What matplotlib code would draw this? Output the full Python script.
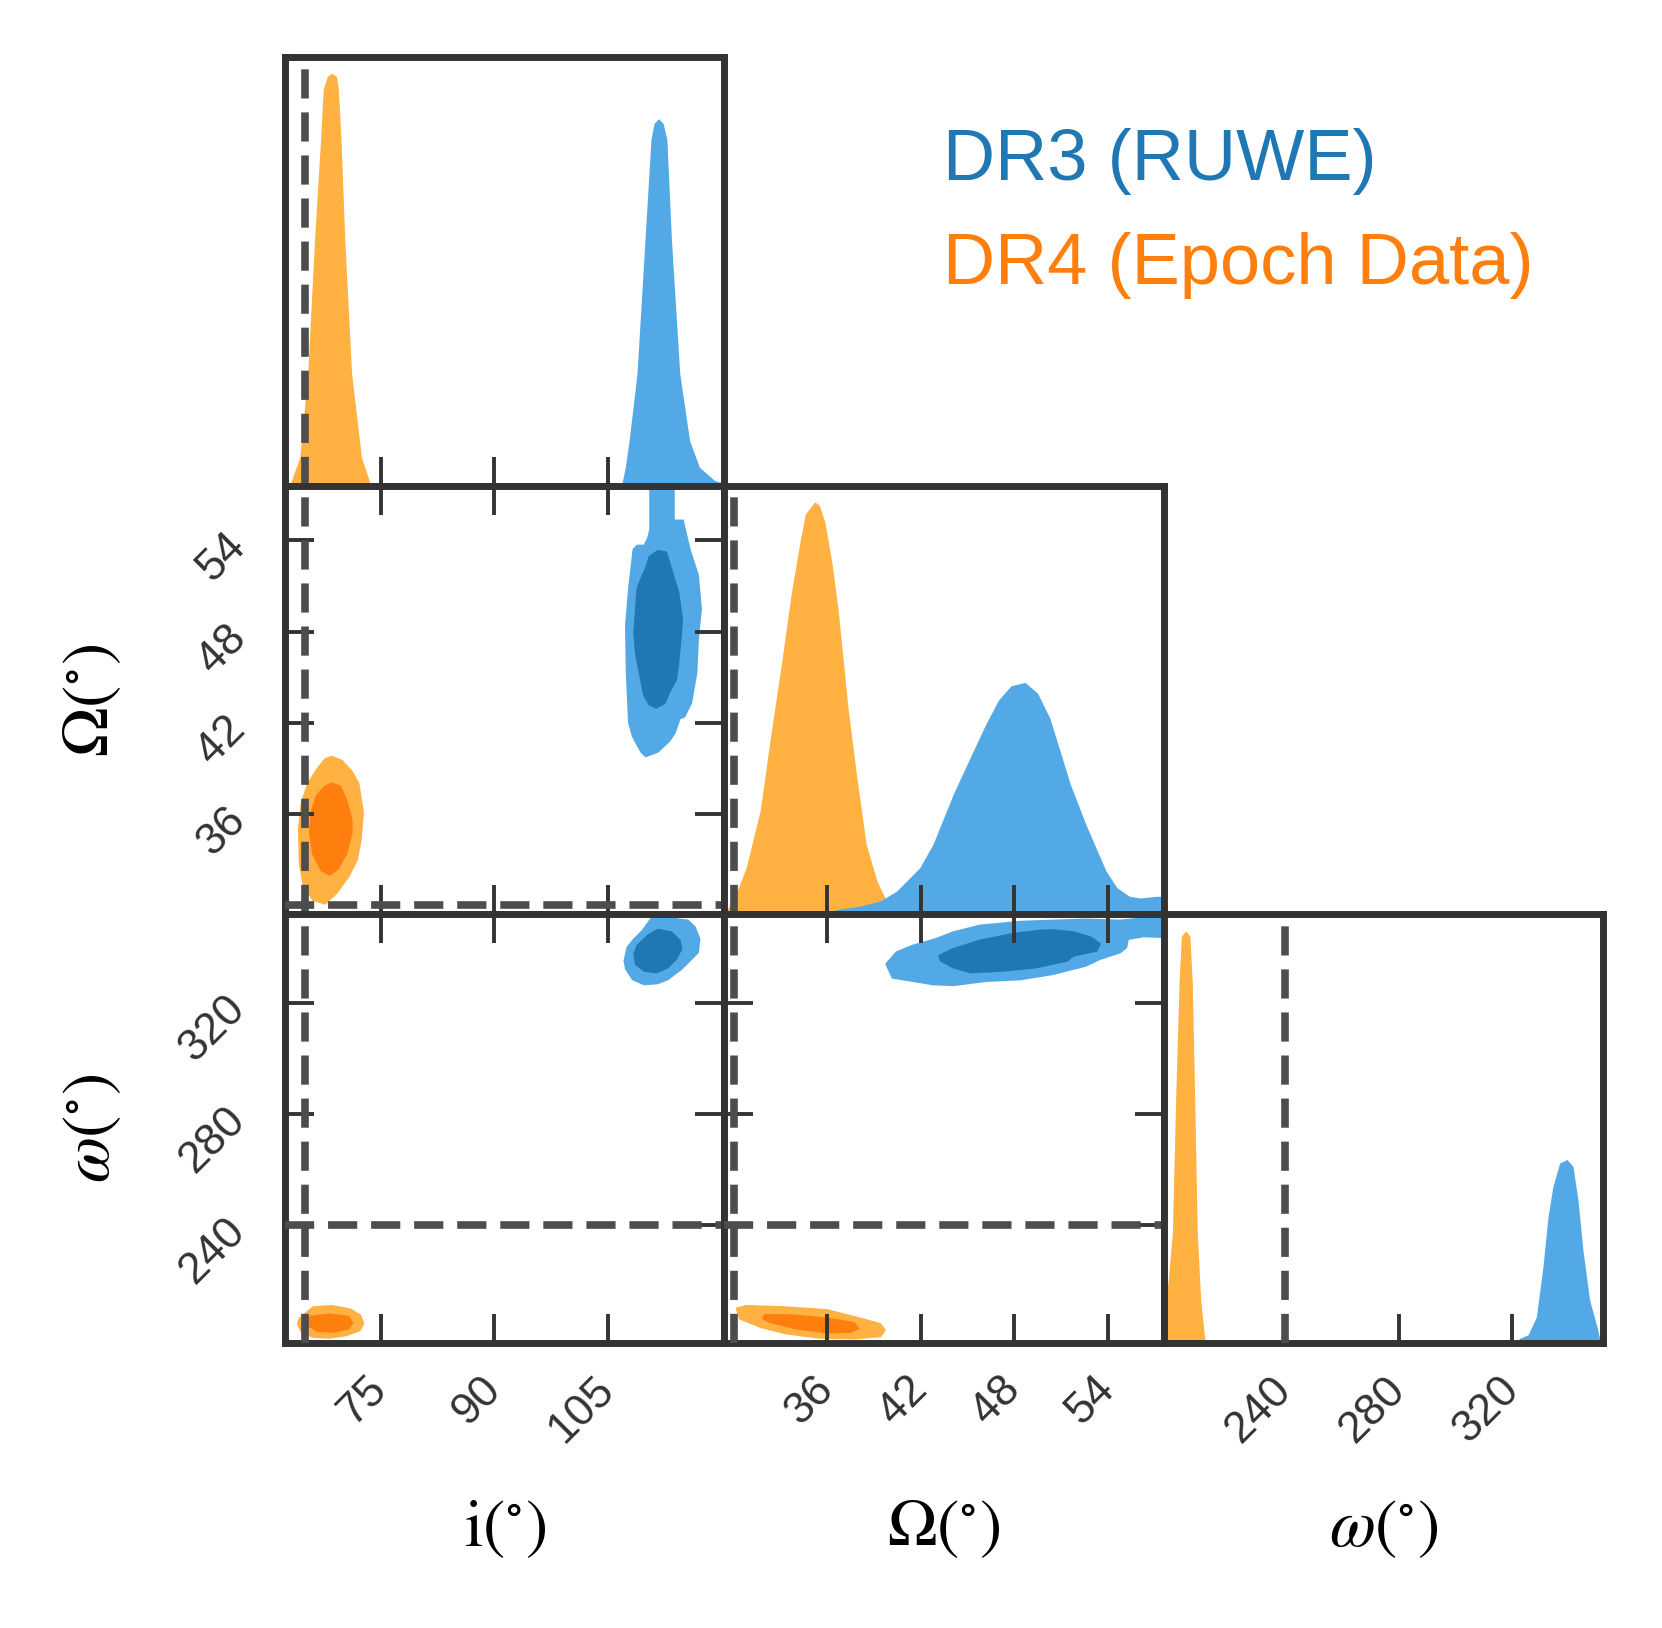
import matplotlib
matplotlib.use("Agg")
import matplotlib.pyplot as plt

plt.rcParams['mathtext.fontset'] = 'stix'
plt.rcParams['lines.scale_dashes'] = False
plt.rcParams['font.family'] = ['Liberation Sans', 'DejaVu Sans']

BLUE_LIGHT = "#53a9e5"
BLUE_DARK = "#1f77b4"
ORANGE_LIGHT = "#ffb142"
ORANGE_DARK = "#ff7f0e"
FRAME = "#333333"
TRUTH = "#4d4d4d"

# truth values (dashed lines)
i_true = 65
Omega_true = 30
omega_true = 240

# axis ranges / ticks
i_lim = (62.3, 120.4)
Omega_lim = (29.4, 57.6)
omega_lim = (197.5, 351.8)
i_ticks = [75, 90, 105]
Omega_ticks = [36, 42, 48, 54]
omega_ticks = [240, 280, 320]

# 1D marginals: value, relative height
i_dr4_x = [62.9, 63.3, 64.25, 65.3, 66.2, 67.0, 67.35, 67.9, 68.5, 69.1, 69.35, 69.7, 70.2, 71.1, 72.4, 73.3, 73.6]
i_dr4_h = [0, 0.02, 0.066, 0.262, 0.574, 0.808, 0.925, 0.955, 0.962, 0.955, 0.925, 0.808, 0.574, 0.262, 0.066, 0.019, 0]
i_dr3_x = [106.8, 107.3, 107.8, 108.85, 109.9, 110.7, 111.1, 111.7, 112.3, 112.8, 113.4, 114.5, 115.8, 117.1, 119.1, 120.4]
i_dr3_h = [0, 0.043, 0.105, 0.262, 0.574, 0.808, 0.845, 0.856, 0.845, 0.808, 0.574, 0.262, 0.105, 0.043, 0.012, 0.005]

Omega_dr4_x = [29.4, 29.65, 30.3, 30.8, 31.7, 32.3, 33.1, 33.7, 34.25, 34.6, 35.2, 35.5, 35.85, 36.3, 36.7, 37.35, 37.9, 38.5, 39.2, 39.8, 40.45, 41.0]
Omega_dr4_h = [0, 0.015, 0.062, 0.109, 0.242, 0.398, 0.594, 0.750, 0.868, 0.934, 0.962, 0.954, 0.915, 0.821, 0.711, 0.477, 0.320, 0.164, 0.077, 0.031, 0.011, 0]
Omega_dr3_x = [36.0, 36.6, 38.1, 39.4, 40.45, 41.95, 42.8, 44.1, 45.4, 46.2, 47.0, 47.8, 48.7, 49.5, 50.3, 51.6, 52.6, 53.9, 54.6, 55.4, 56.1, 57.1, 57.6]
Omega_dr3_h = [0, 0.011, 0.019, 0.031, 0.054, 0.109, 0.164, 0.281, 0.383, 0.445, 0.500, 0.533, 0.541, 0.516, 0.457, 0.304, 0.210, 0.101, 0.062, 0.042, 0.038, 0.042, 0.042]

omega_dr4_x = [197.5, 199.0, 200.55, 201.7, 202.9, 203.7, 205.2, 206.7, 207.55, 208.4, 209.3, 210.5, 211.9, 212.5]
omega_dr4_h = [0.09, 0.139, 0.256, 0.568, 0.840, 0.949, 0.961, 0.949, 0.840, 0.568, 0.256, 0.100, 0.011, 0]
omega_dr3_x = [321.0, 322.6, 325.5, 328.4, 330.7, 332.5, 334.2, 336.6, 339.15, 341.25, 343.0, 344.75, 347.1, 350.0, 350.6, 351.8]
omega_dr3_h = [0, 0.011, 0.019, 0.061, 0.178, 0.295, 0.365, 0.420, 0.428, 0.412, 0.334, 0.217, 0.100, 0.030, 0.011, 0]

# 2D credible regions, traced outlines (outer / inner)
# i vs Omega
iO_dr3_outer_x = [110.6, 113.7, 113.7, 114.9, 115.8, 116.9, 117.3, 116.9, 116.7, 116.0, 115.1, 114.5, 113.8, 113.1, 111.6, 110.0, 109.4, 108.3, 107.8, 107.5, 107.4, 107.8, 108.4, 108.9, 109.8, 110.3, 110.6]
iO_dr3_outer_y = [58.5, 58.5, 55.3, 55.3, 53.4, 51.7, 49.5, 47.5, 45.3, 43.3, 42.4, 42.3, 41.3, 40.8, 40.1, 39.8, 40.1, 41.1, 42.0, 45.3, 48.4, 50.8, 53.4, 53.65, 53.65, 54.1, 54.7]
iO_dr3_inner_x = [111.6, 112.7, 113.1, 113.6, 114.3, 114.8, 114.6, 114.25, 114.0, 113.1, 112.5, 111.4, 110.5, 109.8, 109.2, 108.7, 108.5, 108.9, 109.6, 110.0, 110.5]
iO_dr3_inner_y = [53.3, 53.2, 52.55, 51.7, 50.6, 48.8, 47.5, 45.7, 44.85, 44.0, 43.3, 43.0, 43.2, 43.8, 45.3, 46.6, 47.9, 50.8, 51.7, 52.1, 52.9]
iO_dr4_outer_x = [68.45, 69.8, 71.1, 72.0, 72.6, 72.3, 71.8, 70.7, 69.1, 67.6, 66.0, 64.7, 64.25, 64.15, 64.5, 65.35, 66.5, 67.6]
iO_dr4_outer_y = [39.76, 39.5, 38.8, 38.0, 36.1, 34.3, 33.0, 31.9, 30.8, 30.1, 30.35, 31.45, 32.8, 35.0, 36.7, 38.0, 38.9, 39.6]
iO_dr4_inner_x = [68.45, 69.6, 70.4, 71.1, 71.1, 70.4, 69.3, 68.2, 67.1, 66.0, 65.6, 65.8, 66.5, 67.6]
iO_dr4_inner_y = [38.0, 37.8, 36.9, 35.6, 34.75, 33.4, 32.4, 32.0, 32.3, 33.4, 34.75, 36.1, 37.2, 37.8]

# i vs omega
io_dr3_outer_x = [110.7, 113.4, 115.6, 116.5, 117.1, 116.9, 115.6, 114.7, 112.9, 111.6, 109.8, 108.3, 107.4, 107.2, 107.6, 108.5, 109.6]
io_dr3_outer_y = [350.1, 350.3, 349.5, 347.1, 342.9, 338.1, 334.5, 332.1, 328.4, 327.0, 326.6, 328.4, 332.1, 335.1, 339.9, 342.9, 345.9]
io_dr3_inner_x = [111.6, 113.4, 114.5, 114.7, 114.0, 112.9, 111.4, 109.8, 108.7, 108.5, 108.9, 110.3]
io_dr3_inner_y = [346.2, 345.3, 342.3, 339.3, 335.7, 332.7, 330.9, 331.5, 333.9, 337.5, 340.5, 344.1]
io_dr4_outer_x = [64.25, 66.0, 68.45, 70.9, 72.2, 72.65, 72.2, 70.4, 68.2, 66.0, 64.5, 64.0]
io_dr4_outer_y = [206.3, 210.3, 210.8, 209.6, 207.5, 204.7, 202.1, 200.3, 199.4, 199.7, 201.5, 204.5]
io_dr4_inner_x = [65.6, 68.2, 70.7, 71.2, 70.7, 68.7, 66.5, 65.35]
io_dr4_inner_y = [206.9, 207.75, 206.9, 204.7, 202.7, 201.5, 201.9, 203.9]

# Omega vs omega
Oo_dr3_outer_x = [39.8, 40.45, 41.5, 43.0, 44.1, 45.8, 48.4, 50.5, 52.6, 54.8, 55.85, 57.1, 58.0, 58.0, 56.3, 55.3, 55.2, 54.8, 53.5, 52.6, 50.5, 48.4, 46.2, 44.1, 42.8, 41.5, 40.2]
Oo_dr3_outer_y = [333.9, 338.1, 340.5, 342.9, 345.3, 347.7, 349.1, 349.5, 349.9, 349.5, 350.1, 350.7, 350.8, 343.5, 343.9, 342.9, 339.9, 338.1, 335.7, 333.3, 330.3, 328.4, 327.8, 326.3, 326.6, 327.8, 329.0]
Oo_dr3_inner_x = [43.2, 44.1, 45.8, 47.9, 49.65, 50.5, 51.8, 52.9, 53.5, 53.3, 51.8, 51.4, 49.4, 47.3, 45.2, 44.1, 43.3]
Oo_dr3_inner_y = [336.9, 339.3, 342.3, 344.7, 345.9, 346.1, 345.3, 343.5, 341.1, 338.7, 336.9, 335.1, 332.7, 331.5, 330.9, 332.7, 335.1]
Oo_dr4_outer_x = [30.2, 30.8, 33.4, 36.0, 38.1, 39.4, 39.7, 39.4, 37.7, 35.5, 33.4, 31.7, 30.4]
Oo_dr4_outer_y = [209.9, 210.8, 210.3, 209.3, 206.3, 204.3, 202.1, 199.9, 199.1, 199.4, 200.9, 203.3, 206.3]
Oo_dr4_inner_x = [32.0, 33.4, 36.0, 37.7, 38.0, 37.5, 36.0, 34.0, 32.3, 31.9]
Oo_dr4_inner_y = [207.5, 207.5, 206.3, 204.7, 202.7, 201.5, 201.3, 202.7, 205.1, 206.3]

fig, axes = plt.subplots(3, 3, figsize=(16.62, 16.28), dpi=100)
fig.subplots_adjust(left=0.1715, right=0.9645, bottom=0.1751, top=0.965, wspace=0, hspace=0)
for r, c in [(0, 1), (0, 2), (1, 2)]:
    fig.delaxes(axes[r, c])

lims = [i_lim, Omega_lim, omega_lim]
ticks = [i_ticks, Omega_ticks, omega_ticks]
truths = [i_true, Omega_true, omega_true]
xlabels = [r'$\mathrm{i}(^{\circ})$', r'$\Omega(^{\circ})$', r'$\omega(^{\circ})$']

marg = {
    0: [(i_dr4_x, i_dr4_h), (i_dr3_x, i_dr3_h)],
    1: [(Omega_dr4_x, Omega_dr4_h), (Omega_dr3_x, Omega_dr3_h)],
    2: [(omega_dr4_x, omega_dr4_h), (omega_dr3_x, omega_dr3_h)],
}
regions = {
    (1, 0): [(iO_dr4_outer_x, iO_dr4_outer_y, iO_dr4_inner_x, iO_dr4_inner_y),
             (iO_dr3_outer_x, iO_dr3_outer_y, iO_dr3_inner_x, iO_dr3_inner_y)],
    (2, 0): [(io_dr4_outer_x, io_dr4_outer_y, io_dr4_inner_x, io_dr4_inner_y),
             (io_dr3_outer_x, io_dr3_outer_y, io_dr3_inner_x, io_dr3_inner_y)],
    (2, 1): [(Oo_dr4_outer_x, Oo_dr4_outer_y, Oo_dr4_inner_x, Oo_dr4_inner_y),
             (Oo_dr3_outer_x, Oo_dr3_outer_y, Oo_dr3_inner_x, Oo_dr3_inner_y)],
}
light = [ORANGE_LIGHT, BLUE_LIGHT]
dark = [ORANGE_DARK, BLUE_DARK]

dash_kw = dict(color=TRUTH, lw=5.5, linestyle=(0, (21.0, 10.0)), zorder=5)

for r in range(3):
    for c in range(r + 1):
        ax = axes[r, c]
        for sp in ax.spines.values():
            sp.set_linewidth(5)
            sp.set_color(FRAME)
        ax.tick_params(direction='in', length=21, width=2.8, color=FRAME,
                       labelsize=32, labelcolor=FRAME)
        ax.set_xlim(lims[c])
        ax.set_xticks(ticks[c])
        if r == c:
            for k, (x, h) in enumerate(marg[c]):
                ax.fill_between(x, 0, h, color=light[k], lw=0, zorder=1)
            ax.set_ylim(0, 1)
            ax.set_yticks([])
            ax.tick_params(top=False, left=False, right=False)
            ax.axvline(truths[c], **dash_kw)
        else:
            for k, (ox, oy, ix, iy) in enumerate(regions[(r, c)]):
                ax.fill(ox, oy, color=light[k], lw=1.5, joinstyle='round', zorder=1)
                ax.fill(ix, iy, color=dark[k], lw=1.5, joinstyle='round', zorder=1.5)
            ax.set_ylim(lims[r])
            ax.set_yticks(ticks[r])
            ax.tick_params(top=True, right=True)
            ax.axvline(truths[c], **dash_kw)
            ax.axhline(truths[r], **dash_kw)
        if r == 2:
            ax.set_xticklabels([str(t) for t in ticks[c]], rotation=45, ha='right',
                               va='center', rotation_mode='anchor')
            ax.tick_params(axis='x', pad=29)
            ax.set_xlabel(xlabels[c], fontsize=48)
            ax.xaxis.set_label_coords(0.5, -0.435)
            ax.xaxis.label.set_va('center')
        else:
            ax.set_xticklabels([])
        if c == 0 and r > 0:
            ax.set_yticklabels([str(t) for t in ticks[r]], rotation=45, ha='right',
                               va='center', rotation_mode='anchor')
            ax.tick_params(axis='y', pad=33)
            ax.set_ylabel(xlabels[r], fontsize=48)
            ax.yaxis.set_label_coords(-0.44, 0.5)
            ax.yaxis.label.set_va('center')
        elif r != c:
            ax.set_yticklabels([])

fig.text(0.5674, 0.8894, "DR3 (RUWE)", color=BLUE_DARK, fontsize=52, va='baseline')
fig.text(0.5674, 0.8256, "DR4 (Epoch Data)", color=ORANGE_DARK, fontsize=52, va='baseline')

fig.savefig("out.png", dpi=100)
